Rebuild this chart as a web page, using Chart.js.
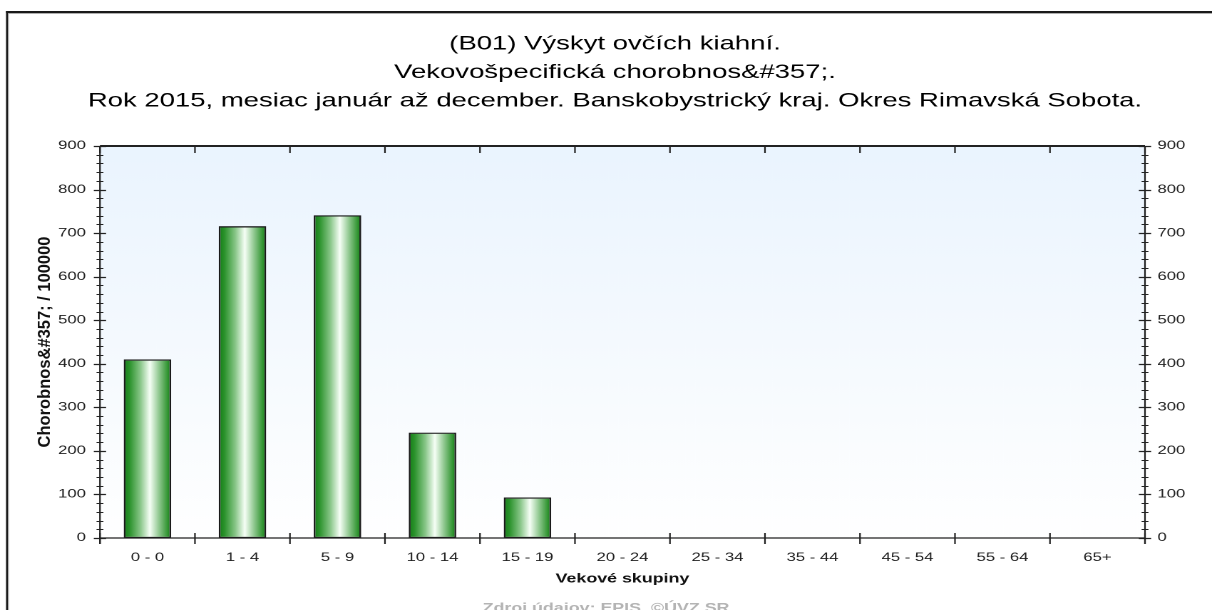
<!DOCTYPE html>
<html>
<head>
<meta charset="utf-8">
<script src="https://cdn.jsdelivr.net/npm/chart.js@4.4.1/dist/chart.umd.min.js"></script>
<style>
html,body{margin:0;padding:0;background:#fff;overflow:hidden;}
</style>
</head>
<body>
<canvas id="c" width="850" height="610" style="display:block;width:1212px;height:610px;"></canvas>
<script>
// ---- data ----
const titleLines = [
  '(B01) Výskyt ovčích kiahní.',
  'Vekovošpecifická chorobnos&#357;.',
  'Rok 2015, mesiac január až december. Banskobystrický kraj. Okres Rimavská Sobota.'
];
const categories = ['0 - 0','1 - 4','5 - 9','10 - 14','15 - 19','20 - 24','25 - 34','35 - 44','45 - 54','55 - 64','65+'];
const values = [410, 716, 741, 242, 93, 0, 0, 0, 0, 0, 0];
const yMin = 0, yMax = 900, yStep = 100, yMinorStep = 20;
const xTitle = 'Vekové skupiny';
const yTitle = 'Chorobnos&#357; / 100000';
const sourceText = 'Zdroj údajov: EPIS, ©ÚVZ SR';

const STRETCH = 1212 / 850;   // horizontal stretch of the displayed canvas
const FONT = '"Liberation Sans", Arial, sans-serif';
Chart.defaults.font.family = FONT;
Chart.defaults.color = '#222';

function barGradient(ctx) {
  const chart = ctx.chart;
  const xs = chart.scales && chart.scales.x;
  if (!xs || ctx.type !== 'data') return '#2a8a2a';
  const cx = xs.getPixelForValue(ctx.dataIndex);
  const cw = xs.getPixelForValue(1) - xs.getPixelForValue(0);
  if (!isFinite(cx) || !isFinite(cw) || cw === 0) return '#2a8a2a';
  const w = cw * 0.5;
  const g = chart.ctx.createLinearGradient(cx - w / 2, 0, cx + w / 2, 0);
  g.addColorStop(0, '#137d16');
  g.addColorStop(0.12, '#2a922b');
  g.addColorStop(0.35, '#88c688');
  g.addColorStop(0.55, '#f6fff6');
  g.addColorStop(0.75, '#8cc68c');
  g.addColorStop(0.92, '#359735');
  g.addColorStop(1, '#147a16');
  return g;
}

const decor = {
  id: 'decor',
  beforeDraw(chart) {
    const c = chart.ctx, a = chart.chartArea;
    c.save();
    c.fillStyle = '#fff';
    c.fillRect(0, 0, chart.width, chart.height);
    // outer frame (top + left)
    c.fillStyle = '#1a1a1a';
    c.fillRect(4.2, 11, 1000, 2);
    c.fillRect(4.2, 11, 1.4, 700);
    c.fillStyle = '#9a9a9a';
    c.fillRect(5.6, 13, 1000, 0.8);
    c.fillRect(5.6, 13, 0.6, 700);
    // plot background gradient
    const g = c.createLinearGradient(0, a.top, 0, a.bottom);
    g.addColorStop(0, '#eaf4fe');
    g.addColorStop(1, '#ffffff');
    c.fillStyle = g;
    c.fillRect(a.left, a.top, a.right - a.left, a.bottom - a.top);
    c.restore();
  },
  afterDatasetsDraw(chart) {
    const c = chart.ctx, a = chart.chartArea;
    const ys = chart.scales.y, xs = chart.scales.x;
    c.save();
    c.strokeStyle = '#222';
    // frame
    c.lineWidth = 2;
    c.beginPath(); c.moveTo(a.left, a.top); c.lineTo(a.right, a.top); c.stroke();
    c.lineWidth = 1.3;
    c.beginPath(); c.moveTo(a.left, a.bottom); c.lineTo(a.right, a.bottom); c.stroke();
    c.lineWidth = 1.1;
    c.beginPath(); c.moveTo(a.left, a.top); c.lineTo(a.left, a.bottom + 6); c.stroke();
    c.beginPath(); c.moveTo(a.right, a.top); c.lineTo(a.right, a.bottom + 6); c.stroke();
    // y ticks (major + minor) on both sides
    for (let v = yMin; v <= yMax; v += yMinorStep) {
      const py = Math.round(ys.getPixelForValue(v)) + 0.5;
      const major = v % yStep === 0;
      const h = major ? 4.3 : 2.4;
      c.lineWidth = major ? 1.3 : 1;
      c.beginPath();
      c.moveTo(a.left - h, py); c.lineTo(a.left + h, py);
      c.moveTo(a.right - h, py); c.lineTo(a.right + h, py);
      c.stroke();
    }
    // x category boundary ticks
    const cw = xs.getPixelForValue(1) - xs.getPixelForValue(0);
    c.lineWidth = 1.1;
    for (let i = 0; i <= categories.length; i++) {
      const px = xs.getPixelForValue(0) - cw / 2 + i * cw;
      c.beginPath();
      c.moveTo(px, a.bottom - 5); c.lineTo(px, a.bottom + 6);
      c.moveTo(px, a.top); c.lineTo(px, a.top + 7);
      c.stroke();
    }
    c.restore();
  },
  afterDraw(chart) {
    const c = chart.ctx, a = chart.chartArea;
    c.save();
    c.fillStyle = '#000';
    c.textAlign = 'center';
    c.textBaseline = 'middle';
    c.font = '19.3px ' + FONT;
    const ys = [44, 72.5, 101];
    titleLines.forEach((t, i) => c.fillText(t, 431.3, ys[i]));
    // y-axis title, drawn un-stretched
    c.save();
    c.translate(31.8, (a.top + a.bottom) / 2);
    c.scale(1 / STRETCH, 1);
    c.rotate(-Math.PI / 2);
    c.fillStyle = '#111';
    c.font = 'bold 16.5px ' + FONT;
    c.fillText(yTitle, 0, 0);
    c.restore();
    // source
    c.fillStyle = '#b4b4b4';
    c.font = 'bold 12.5px ' + FONT;
    c.textBaseline = 'alphabetic';
    c.fillText(sourceText, 425, 612);
    c.restore();
  }
};

new Chart(document.getElementById('c'), {
  type: 'bar',
  data: {
    labels: categories,
    datasets: [{
      data: values,
      yAxisID: 'y',
      backgroundColor: barGradient,
      borderColor: '#1a1a1a',
      borderWidth: 1.3,
      borderSkipped: false,
      barPercentage: 0.5,
      categoryPercentage: 1.0
    }]
  },
  options: {
    responsive: false,
    animation: false,
    devicePixelRatio: 2,
    layout: { padding: { top: 146, left: 0, right: 0, bottom: 0 } },
    plugins: { legend: { display: false }, title: { display: false }, tooltip: { enabled: false } },
    scales: {
      x: {
        grid: { display: false, drawTicks: false },
        border: { display: false },
        ticks: { font: { size: 11.7 }, color: '#222', padding: 13, maxRotation: 0, autoSkip: false },
        title: { display: true, text: xTitle, font: { size: 12.5, weight: 'bold' }, color: '#111', padding: { top: 0, bottom: 23.5 } },
        afterFit(s) { s.height = 72; }
      },
      y: {
        position: 'left',
        min: yMin, max: yMax,
        grid: { display: false, drawTicks: false },
        border: { display: false },
        ticks: { stepSize: yStep, font: { size: 11.7 }, color: '#222', padding: 9.8 },
        title: { display: false, text: yTitle },
        afterFit(s) { s.width = 70.1; }
      },
      y2: {
        position: 'right',
        min: yMin, max: yMax,
        grid: { display: false, drawTicks: false },
        border: { display: false },
        ticks: { stepSize: yStep, font: { size: 11.7 }, color: '#222', padding: 8.8 },
        afterFit(s) { s.width = 47; }
      }
    }
  },
  plugins: [decor]
});
</script>
</body>
</html>
